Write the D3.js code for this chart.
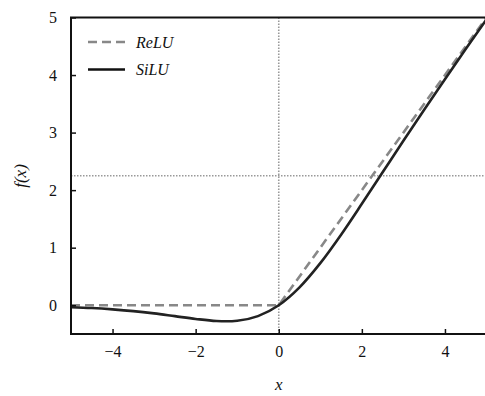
<!DOCTYPE html>
<html>
<head>
<meta charset="utf-8">
<script src="https://cdn.jsdelivr.net/npm/d3@7"></script>
</head>
<body style="margin:0">
<svg class="chart" width="485" height="396"></svg>
<script>
// sample points
let xValues = [-5, -4.5, -4, -3.5, -3, -2.5, -2, -1.5, -1.25, -1, -0.5, 0, 0.5, 1, 1.5, 2, 2.5, 3, 3.5, 4, 4.5, 5];
let siluValues = [-0.034, -0.049, -0.072, -0.102, -0.142, -0.19, -0.238, -0.274, -0.278, -0.269, -0.189, 0, 0.311, 0.731, 1.226, 1.762, 2.31, 2.858, 3.398, 3.928, 4.451, 4.967];
let reluX = [-5, 0, 5];
let reluValues = [0, 0, 5];
let xTicks = [-4, -2, 0, 2, 4];
let yTicks = [0, 1, 2, 3, 4, 5];
let guideX = 0;
let guideY = 2.25;
let seriesNames = ["ReLU", "SiLU"];

let margin = { top: 17.5, right: -1.5, bottom: 62, left: 71 };
let svg = d3.select(".chart");
let width = 485 - margin.left - margin.right;
let height = 396 - margin.top - margin.bottom;

let g = svg.append("g").attr("transform", translate(margin.left, margin.top));

let x = d3.scaleLinear().domain([-5, 5]).range([0, width]);
let y = d3.scaleLinear().domain([-0.5, 5]).range([height, 0]);

g.append("clipPath").attr("id", "clip")
  .append("rect").attr("width", width).attr("height", height);

let plot = g.append("g").attr("clip-path", "url(#clip)");

// dotted guides
plot.append("line")
  .attr("x1", x(guideX)).attr("x2", x(guideX))
  .attr("y1", 0).attr("y2", height)
  .attr("stroke", "#999").attr("stroke-width", 1.6).attr("stroke-dasharray", "1.5,1.5");
plot.append("line")
  .attr("x1", 0).attr("x2", width)
  .attr("y1", y(guideY)).attr("y2", y(guideY))
  .attr("stroke", "#999").attr("stroke-width", 1.6).attr("stroke-dasharray", "1.5,1.5");

let line = d3.line().x(d => x(d[0])).y(d => y(d[1]));

// ReLU
plot.append("path")
  .attr("d", line(reluX.map((v, i) => [v, reluValues[i]])))
  .attr("fill", "none").attr("stroke", "#888").attr("stroke-width", 2.6)
  .attr("stroke-dasharray", "9,5");

// SiLU
plot.append("path")
  .attr("d", line.curve(d3.curveMonotoneX)(xValues.map((v, i) => [v, siluValues[i]])))
  .attr("fill", "none").attr("stroke", "#222").attr("stroke-width", 2.6);

// axes, ticks pointing inward
let fmt = d => String(d).replace("-", "\u2212");
let xAxis = g.append("g").attr("transform", translate(0, height))
  .call(d3.axisBottom(x).tickValues(xTicks).tickSizeInner(-5).tickSizeOuter(0).tickPadding(12).tickFormat(fmt));
let yAxis = g.append("g")
  .call(d3.axisLeft(y).tickValues(yTicks).tickSizeInner(-5).tickSizeOuter(0).tickPadding(14).tickFormat(fmt));
[xAxis, yAxis].forEach(a => {
  a.attr("font-family", "Tinos").attr("font-size", 16);
  a.select(".domain").remove();
  a.selectAll(".tick line").attr("stroke", "#111").attr("stroke-width", 1.5);
  a.selectAll(".tick text").attr("fill", "#111");
});

// frame
g.append("rect")
  .attr("width", width).attr("height", height)
  .attr("fill", "none").attr("stroke", "#111").attr("stroke-width", 2);

// axis titles
svg.append("text")
  .attr("x", margin.left + x(0)).attr("y", 390)
  .attr("text-anchor", "middle")
  .attr("font-family", "Times New Roman").attr("font-style", "italic").attr("font-size", 17)
  .attr("fill", "#111")
  .text("x");
svg.append("text")
  .attr("transform", "translate(26," + 176 + ") rotate(-90)")
  .attr("text-anchor", "middle")
  .attr("font-family", "serif").attr("font-style", "italic").attr("font-size", 17)
  .attr("fill", "#111")
  .text("f(x)");

// legend
let legend = g.append("g").attr("transform", translate(17, 24.5));
seriesNames.forEach((name, i) => {
  let row = legend.append("g").attr("transform", translate(0, i * 27.5));
  row.append("line").attr("x1", 0).attr("x2", 37).attr("y1", 0).attr("y2", 0)
    .attr("stroke", i === 0 ? "#888" : "#111").attr("stroke-width", 2.6)
    .attr("stroke-dasharray", i === 0 ? "9,5" : null);
  row.append("text").attr("x", 48).attr("y", 0).attr("dy", "0.35em")
    .attr("font-family", "Liberation Serif").attr("font-style", "italic").attr("font-size", 16)
    .attr("fill", "#111")
    .text(name);
});

function translate(x, y) {
  return "translate(" + x + "," + y + ")";
}
</script>
</body>
</html>
